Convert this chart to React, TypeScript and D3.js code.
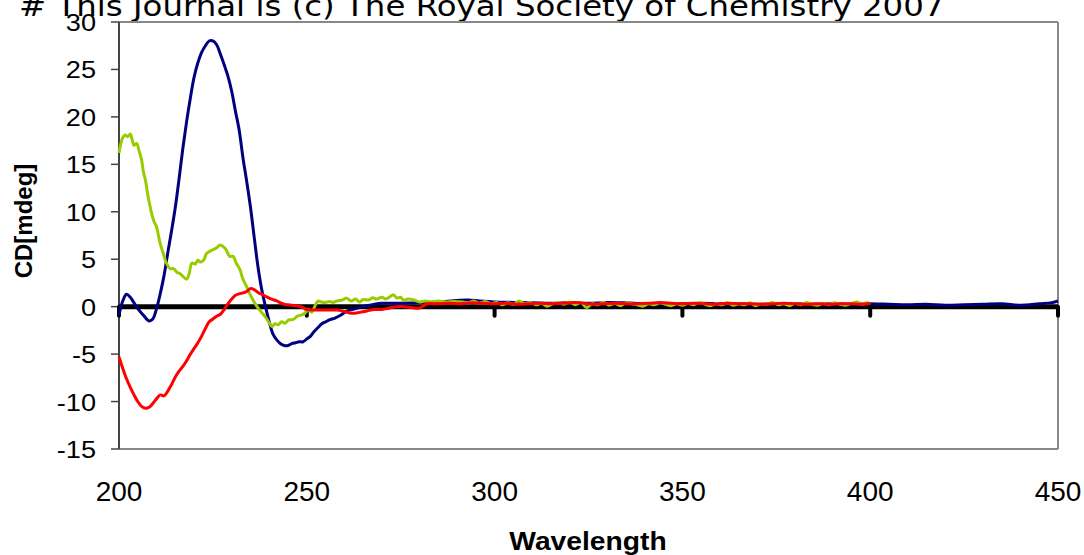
import React from "react";
import * as d3 from "d3";

const W = 1084;
const H = 555;

const xTicks = [200, 250, 300, 350, 400, 450];
const yTicks = [-15, -10, -5, 0, 5, 10, 15, 20, 25, 30];
const titleText = "# This Journal is (c) The Royal Society of Chemistry 2007";
const xTitle = "Wavelength";
const yTitle = "CD[mdeg]";

// [wavelength, CD]
const blueSeries: [number, number][] = [
  [200, -0.9], [201, 0.6], [202, 1.3], [203, 1.0], [204, 0.4], [205, -0.2], [206.5, -0.9], [208, -1.5], [209, -1.3],
  [210, -0.2], [211, 1.4], [212, 3.3], [213, 5.7], [214, 8.0], [215, 10.5], [216, 13.5], [217, 16.7], [218, 19.5],
  [219, 22.0], [220, 24.2], [221, 25.7], [222, 26.8], [223, 27.5], [224, 28.0], [225, 28.0], [226, 27.6], [227, 26.6],
  [228, 25.5], [229, 24.3], [230, 22.7], [231, 20.6], [232, 18.6], [233, 15.7], [234, 13.2], [235, 10.5], [236, 7.3],
  [237, 4.2], [238, 1.8], [239, 0.0], [240, -1.6], [241, -2.9], [242, -3.5], [243, -3.9], [244, -4.1], [245, -4.1],
  [246, -3.9], [247, -3.8], [248, -3.7], [249, -3.7], [250, -3.4], [251, -3.1], [252, -2.6], [253, -2.2], [254, -1.8],
  [255, -1.6], [256, -1.4], [257.5, -1.2], [259, -0.9], [260.5, -0.5], [262, -0.3], [265, 0.0], [268, 0.25], [270, 0.35],
  [275, 0.35], [280, 0.4], [285, 0.5], [290, 0.65], [293, 0.7], [296, 0.6], [300, 0.5], [305, 0.45], [310, 0.4],
  [315, 0.35], [320, 0.4], [325, 0.35], [330, 0.45], [335, 0.4], [340, 0.3], [345, 0.35], [350, 0.3], [355, 0.35],
  [360, 0.3], [365, 0.3], [370, 0.25], [375, 0.3], [380, 0.3], [385, 0.25], [390, 0.3], [395, 0.25], [400, 0.3],
  [405, 0.25], [410, 0.2], [415, 0.25], [420, 0.15], [425, 0.2], [430, 0.25], [435, 0.3], [440, 0.15], [445, 0.3],
  [448, 0.4], [450, 0.6],
];

const greenSeries: [number, number][] = [
  [200, 16.2], [200.5, 17.2], [201, 17.8], [201.6, 18.1], [202.3, 17.9], [203, 18.2], [203.5, 17.6], [204, 17.0],
  [204.7, 17.2], [205.3, 16.5], [206, 15.5], [206.5, 14.2], [207, 13.4], [207.8, 11.5], [208.7, 9.8], [209.3, 9.0],
  [210, 8.4], [210.5, 7.5], [211, 6.6], [211.8, 5.6], [212.5, 4.7], [213.6, 4.0], [214.5, 4.0], [215.5, 3.6],
  [216.2, 3.5], [217, 3.2], [218, 2.9], [218.7, 3.5], [219.4, 4.6], [220.3, 4.5], [221, 4.9], [221.6, 4.7],
  [222.5, 4.9], [223.3, 5.6], [224, 5.8], [225, 6.0], [226, 6.2], [226.9, 6.5], [227.8, 6.3], [228.5, 6.0],
  [229.5, 5.3], [230.4, 5.3], [231.2, 4.6], [232.2, 3.9], [233, 2.9], [234, 2.1], [235, 1.2], [236.2, 0.35],
  [237.5, -0.4], [238.9, -1.05], [240, -1.7], [240.7, -2.1], [241.5, -1.8], [242.4, -1.9], [243.3, -1.6],
  [244.2, -1.75], [245.2, -1.4], [246.4, -1.35], [247.5, -1.0], [248.5, -0.9], [249.5, -0.7], [250.5, -0.3],
  [251.3, -0.6], [252.2, 0.1], [253, 0.6], [253.8, 0.5], [255, 0.45], [256, 0.55], [257, 0.45], [258, 0.6],
  [259.5, 0.7], [260.6, 0.9], [261.8, 0.6], [263, 0.8], [264, 0.5], [265, 0.75], [266.5, 0.7], [267.5, 0.95],
  [268.6, 0.8], [270, 1.0], [271, 0.8], [272, 1.0], [273, 1.25], [274, 0.9], [275, 1.0], [275.7, 0.7], [277, 0.8],
  [278.5, 0.7], [280, 0.5], [281.5, 0.6], [283, 0.5], [285, 0.6], [287, 0.5], [289, 0.55], [291.5, 0.5], [293, 0.4],
  [294.5, 0.6], [296, 0.35], [297.5, 0.55], [299, 0.3], [300.5, 0.45], [302, 0.2], [303.5, 0.4], [305, 0.25],
  [306.5, 0.6], [308, 0.3], [309.5, 0.45], [311, 0.2], [312.5, 0.35], [314, 0.05], [315.5, 0.3], [317, 0.4],
  [318.5, 0.25], [320, 0.5], [321.5, 0.2], [323, 0.45], [324.5, -0.1], [326, 0.3], [327.5, 0.2], [329, 0.45],
  [330.5, 0.15], [332, 0.35], [333.5, 0.1], [335, 0.4], [336.5, 0.3], [338, 0.2], [339.5, 0.05], [341, 0.3],
  [342.5, 0.2], [344, 0.4], [345.5, 0.25], [347, 0.1], [348.5, 0.3], [350, 0.15], [351.5, 0.35], [353, 0.2],
  [354.5, 0.45], [356, 0.25], [357.5, 0.1], [359, 0.3], [360.5, 0.2], [362, 0.4], [363.5, 0.15], [365, 0.3],
  [366.5, 0.2], [368, 0.4], [369.5, 0.1], [371, 0.3], [372.5, 0.25], [374, 0.45], [375.5, 0.2], [377, 0.3],
  [378.5, 0.1], [380, 0.35], [381.5, 0.2], [383, 0.45], [384.5, 0.25], [386, 0.15], [387.5, 0.35], [389, 0.2],
  [390.5, 0.4], [392, 0.25], [393.5, 0.15], [395, 0.35], [396.5, 0.5], [398, 0.25], [399, 0.4], [400, 0.3],
];

const redSeries: [number, number][] = [
  [200, -5.3], [201, -6.5], [202, -7.6], [203, -8.5], [204, -9.3], [205, -10.0], [206, -10.5], [207, -10.7],
  [208, -10.6], [209, -10.2], [210, -9.7], [211, -9.3], [212, -9.4], [213, -8.9], [214, -8.2], [215, -7.4],
  [216, -6.8], [217, -6.3], [218, -5.7], [219, -5.0], [220, -4.4], [221, -3.8], [222, -3.1], [223, -2.3],
  [224, -1.6], [225, -1.3], [226, -1.0], [227, -0.8], [228, -0.3], [229, 0.3], [230, 0.8], [231, 1.2], [232, 1.35],
  [233, 1.45], [234, 1.6], [235, 1.9], [236, 1.8], [237, 1.5], [238, 1.3], [239, 1.1], [240, 0.9], [241, 0.75],
  [242, 0.6], [243, 0.4], [244, 0.25], [245, 0.2], [246, 0.15], [247, 0.1], [248, 0.05], [249, -0.1], [250, -0.3],
  [252, -0.35], [254, -0.35], [256, -0.35], [258, -0.35], [260, -0.5], [262, -0.7], [264, -0.6], [266, -0.45],
  [268, -0.3], [270, -0.3], [272, -0.15], [274, 0.0], [276, 0.0], [278, -0.1], [280, -0.15], [282, 0.3], [285, 0.3],
  [288, 0.35], [291, 0.3], [294, 0.4], [297, 0.35], [300, 0.3], [303, 0.35], [306, 0.25], [309, 0.3], [312, 0.35],
  [315, 0.3], [318, 0.35], [321, 0.45], [323, 0.4], [326, 0.25], [329, 0.3], [332, 0.35], [335, 0.3], [338, 0.3],
  [341, 0.35], [344, 0.45], [347, 0.35], [350, 0.3], [353, 0.35], [356, 0.3], [359, 0.25], [362, 0.35], [365, 0.3],
  [368, 0.3], [371, 0.25], [374, 0.3], [377, 0.35], [380, 0.3], [383, 0.25], [386, 0.3], [389, 0.25], [392, 0.3],
  [395, 0.3], [398, 0.25], [400, 0.35],
];

const seriesList = [
  { name: "blue", data: blueSeries, color: "#000080" },
  { name: "green", data: greenSeries, color: "#99CC00" },
  { name: "red", data: redSeries, color: "#FF0000" },
];

const PL = 119, PR = 1058, PT = 22, PB = 449;
const SX = 1.13; // horizontal stretch of the reference's lettering

export default function App() {
  const x = d3.scaleLinear().domain([200, 450]).range([PL, PR]);
  const y = d3.scaleLinear().domain([-15, 30]).range([PB, PT]);
  const line = d3
    .line<[number, number]>()
    .x((d) => x(d[0]))
    .y((d) => y(d[1]))
    .curve(d3.curveCatmullRom.alpha(0.5));
  const y0 = y(0);
  const arial = "'Liberation Sans', Arial, sans-serif";

  return (
    <svg
      width={W}
      height={H}
      style={{ position: "absolute", left: 0, top: 0, background: "#fff" }}
    >
      <rect x={0} y={0} width={W} height={H} fill="#fff" />
      {/* title (cut at top) */}
      <text
        transform={`translate(19,16) scale(${SX},1)`}
        fontFamily="'DejaVu Sans', Verdana, sans-serif"
        fontSize={28.7}
        fill="#000"
      >
        {titleText}
      </text>

      {/* plot frame */}
      <line x1={PL} y1={PT} x2={PR} y2={PT} stroke="#888" strokeWidth={2} />
      <line x1={PR} y1={PT} x2={PR} y2={PB} stroke="#888" strokeWidth={2} />
      <line x1={PL} y1={PB} x2={PR} y2={PB} stroke="#888" strokeWidth={2} />
      <line x1={PL} y1={PT} x2={PL} y2={PB} stroke="#444" strokeWidth={2} />

      {/* y ticks and labels */}
      {yTicks.map((t) => (
        <g key={t}>
          <line x1={PL - 8} x2={PL} y1={y(t)} y2={y(t)} stroke="#444" strokeWidth={1.5} />
          <text
            transform={`translate(96,${y(t) + 9}) scale(${SX},1)`}
            textAnchor="end"
            fontFamily={arial}
            fontSize={24}
            fill="#000"
          >
            {t}
          </text>
        </g>
      ))}

      {/* zero axis with ticks */}
      <line x1={PL} x2={PR} y1={y0} y2={y0} stroke="#000" strokeWidth={5} />
      {xTicks.map((t) => (
        <line
          key={t}
          x1={x(t)}
          x2={x(t)}
          y1={y0}
          y2={y0 + 9}
          stroke="#000"
          strokeWidth={4}
          strokeLinecap="round"
        />
      ))}

      {/* series */}
      {seriesList.map((s) => (
        <path
          key={s.name}
          d={line(s.data) || ""}
          fill="none"
          stroke={s.color}
          strokeWidth={3}
          strokeLinejoin="round"
        />
      ))}

      {/* x tick labels */}
      {xTicks.map((t) => (
        <text
          key={t}
          x={x(t)}
          y={501}
          textAnchor="middle"
          fontFamily={arial}
          fontSize={28}
          fill="#000"
        >
          {t}
        </text>
      ))}

      {/* axis titles */}
      <text
        transform={`translate(588,550) scale(${SX},1)`}
        textAnchor="middle"
        fontFamily={arial}
        fontWeight="bold"
        fontSize={25}
        fill="#000"
      >
        {xTitle}
      </text>
      <text
        transform={`translate(32,221) rotate(-90)`}
        textAnchor="middle"
        fontFamily={arial}
        fontWeight="bold"
        fontSize={24}
        fill="#000"
      >
        {yTitle}
      </text>
    </svg>
  );
}
